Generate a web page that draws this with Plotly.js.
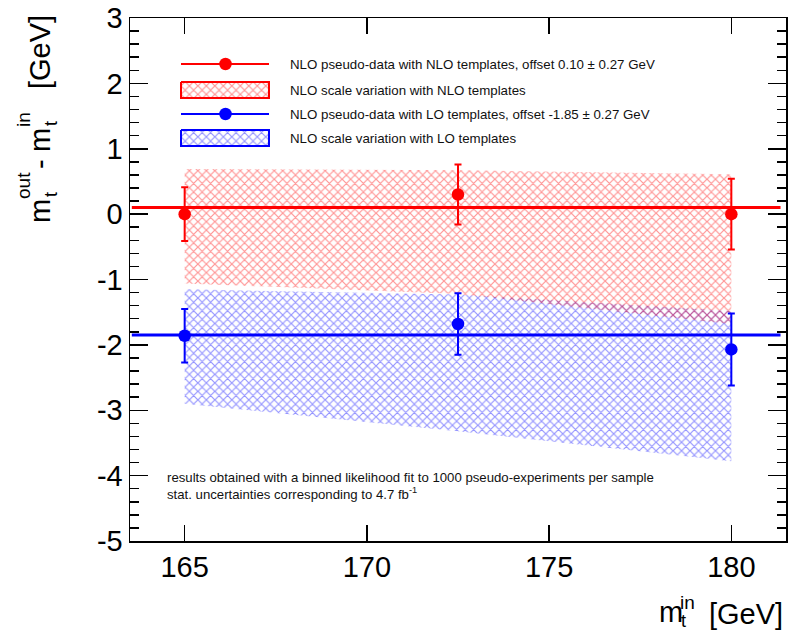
<!DOCTYPE html>
<html>
<head>
<meta charset="utf-8">
<script src="https://cdn.plot.ly/plotly-3.0.1.min.js"></script>
<style>html,body{margin:0;padding:0;background:#fff;}#chart{width:796px;height:631px;}</style>
</head>
<body>
<div id="chart"></div>
<script>
// ---- data ----
const mtIn = [165, 172.5, 180];
const nloPseudo = [0.00, 0.30, 0.00];
const nloPseudoErr = [0.41, 0.46, 0.54];
const loPseudo = [-1.86, -1.68, -2.07];
const loPseudoErr = [0.41, 0.47, 0.55];
const nloBandUp = [0.69, 0.67, 0.61];
const nloBandDown = [-1.06, -1.22, -1.68];
const loBandUp = [-1.15, -1.23, -1.48];
const loBandDown = [-2.90, -3.32, -3.78];
const nloOffset = 0.10;
const loOffset = -1.85;
const fitLineX = [163.55, 181.35];
const legendLabels = [
  "NLO pseudo-data with NLO templates, offset 0.10 \u00b1 0.27 GeV",
  "NLO scale variation with NLO templates",
  "NLO pseudo-data with LO templates, offset -1.85 \u00b1 0.27 GeV",
  "NLO scale variation with LO templates"
];
const noteLines = [
  "results obtained with a binned likelihood fit to 1000 pseudo-experiments per sample",
  "stat. uncertainties corresponding to 4.7 fb<sup>-1</sup>"
];
const xTicks = [165, 170, 175, 180];
const yTicks = [-5, -4, -3, -2, -1, 0, 1, 2, 3];

// ---- geometry ----
const L = 130, R = 786, T = 18, B = 541;
const W = 796, H = 631;
const px = v => (v - L) / (R - L);
const py = v => (B - v) / (B - T);
const FONT = "Liberation Sans, Arial, sans-serif";
const RED = "#ff0000", BLUE = "#0000ff";

function band(up, down) {
  return {
    x: mtIn.concat(mtIn.slice().reverse()),
    y: up.concat(down.slice().reverse())
  };
}
function pattern(c) {
  return {shape: "x", size: 6, solidity: 0.35, fgcolor: c, fgopacity: 0.42, bgcolor: "rgba(0,0,0,0)", fillmode: "replace"};
}

const nloBand = band(nloBandUp, nloBandDown);
const loBand = band(loBandUp, loBandDown);

const traces = [
  {x: loBand.x, y: loBand.y, type: "scatter", mode: "lines", fill: "toself",
   fillcolor: "rgba(0,0,0,0)", fillpattern: pattern(BLUE), line: {width: 0}, hoverinfo: "skip"},
  {x: nloBand.x, y: nloBand.y, type: "scatter", mode: "lines", fill: "toself",
   fillcolor: "rgba(0,0,0,0)", fillpattern: pattern(RED), line: {width: 0}, hoverinfo: "skip"},
  {x: fitLineX, y: [nloOffset, nloOffset], type: "scatter", mode: "lines", line: {color: RED, width: 3}},
  {x: fitLineX, y: [loOffset, loOffset], type: "scatter", mode: "lines", line: {color: BLUE, width: 3}},
  {x: mtIn, y: nloPseudo, type: "scatter", mode: "markers", marker: {color: RED, size: 12.5},
   error_y: {type: "data", array: nloPseudoErr, color: RED, thickness: 2, width: 3.5}},
  {x: mtIn, y: loPseudo, type: "scatter", mode: "markers", marker: {color: BLUE, size: 12.5},
   error_y: {type: "data", array: loPseudoErr, color: BLUE, thickness: 2, width: 3.5}}
];

// legend symbols on a pixel-space overlay axis
const legRows = [64, 90, 114, 138];
const symX0 = 181, symX1 = 269, symMid = 225.5, boxH = 8;
function legLine(row, c) {
  return [
    {x: [symX0, symX1], y: [row, row], xaxis: "x2", yaxis: "y2", type: "scatter", mode: "lines", line: {color: c, width: 2}, hoverinfo: "skip"},
    {x: [symMid], y: [row], xaxis: "x2", yaxis: "y2", type: "scatter", mode: "markers", marker: {color: c, size: 12.5}, hoverinfo: "skip"}
  ];
}
function legBox(row, c) {
  return [{x: [symX0, symX1, symX1, symX0, symX0], y: [row - boxH, row - boxH, row + boxH, row + boxH, row - boxH],
    xaxis: "x2", yaxis: "y2", type: "scatter", mode: "lines", fill: "toself", fillcolor: "rgba(0,0,0,0)",
    fillpattern: pattern(c), line: {color: c, width: 2}, hoverinfo: "skip"}];
}
traces.push(...legLine(legRows[0], RED), ...legBox(legRows[1], RED), ...legLine(legRows[2], BLUE), ...legBox(legRows[3], BLUE));

const annotations = [];
legendLabels.forEach((t, i) => annotations.push({
  xref: "paper", yref: "paper", x: px(288), y: py(legRows[i]), xanchor: "left", yanchor: "middle",
  text: t, showarrow: false, font: {family: FONT, size: 13.3, color: "#111"}
}));
noteLines.forEach((t, i) => annotations.push({
  xref: "paper", yref: "paper", x: px(165), y: py([477, 493][i]), xanchor: "left", yanchor: "middle",
  text: t, showarrow: false, font: {family: FONT, size: 13.2, color: "#111"}
}));

// axis titles (stacked sub/superscripts as ROOT draws them)
function ann(text, x, y, size, angle) {
  annotations.push({xref: "paper", yref: "paper", x: px(x), y: py(y), xanchor: "center", yanchor: "middle",
    text: text, showarrow: false, textangle: angle || 0, font: {family: FONT, size: size, color: "#000"}});
}
// x title: m_t^in [GeV]
ann("m", 671, 612, 29);
ann("in", 687, 602, 19);
ann("t", 683, 621, 18);
ann("[GeV]", 746, 614, 29);
// y title: m_t^out - m_t^in [GeV]
ann("m", 40, 211, 29, -90);
ann("out", 23, 186, 19, -90);
ann("t", 51, 195, 18, -90);
ann("-", 40, 164, 29, -90);
ann("m", 40, 140, 29, -90);
ann("in", 23, 120, 19, -90);
ann("t", 51, 124, 18, -90);
ann("[GeV]", 40, 52, 29, -90);

const layout = {
  width: W, height: H,
  margin: {l: L, r: W - R, t: T, b: H - B, pad: 0},
  paper_bgcolor: "#fff", plot_bgcolor: "#fff",
  showlegend: false,
  font: {family: FONT, size: 29, color: "#000"},
  xaxis: {range: [163.5, 181.5], tickmode: "array", tickvals: xTicks, ticktext: xTicks.map(String),
    ticks: "inside", ticklen: 16, tickwidth: 1.5, tickcolor: "#000",
    showline: true, linecolor: "#000", linewidth: 1.5, mirror: "allticks",
    showgrid: false, zeroline: false, tickfont: {family: FONT, size: 29}},
  yaxis: {range: [-5, 3], tickmode: "array", tickvals: yTicks, ticktext: yTicks.map(String),
    ticks: "inside", ticklen: 18, tickwidth: 1.5, tickcolor: "#000",
    minor: {dtick: 0.2, ticks: "inside", ticklen: 9, tickwidth: 1.5, tickcolor: "#000", showgrid: false},
    showline: true, linecolor: "#000", linewidth: 1.5, mirror: "allticks",
    showgrid: false, zeroline: false, tickfont: {family: FONT, size: 29}},
  xaxis2: {overlaying: "x", range: [L, R], visible: false, fixedrange: true},
  yaxis2: {overlaying: "y", range: [B, T], visible: false, fixedrange: true},
  annotations: annotations
};

Plotly.newPlot("chart", traces, layout, {staticPlot: true, displayModeBar: false});
</script>
</body>
</html>
